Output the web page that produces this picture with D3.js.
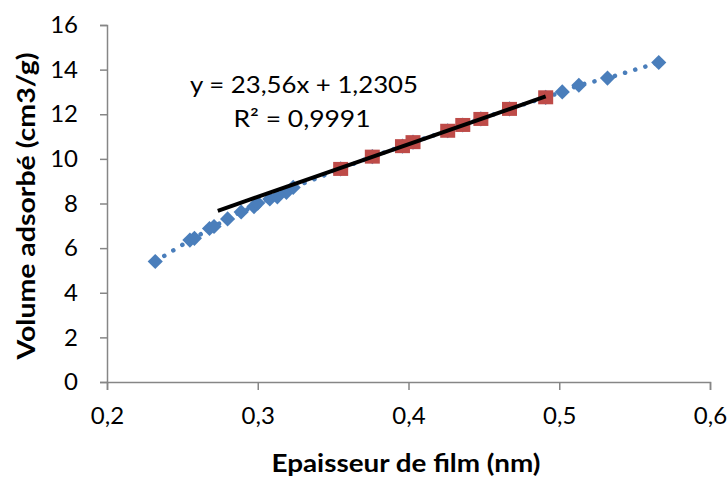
<!DOCTYPE html>
<html><head><meta charset="utf-8">
<script src="https://cdn.jsdelivr.net/npm/d3@7"></script>
<style>body{margin:0;background:#fff;overflow:hidden;} svg{display:block;} text{font-family:Lato,"Open Sans",sans-serif;}</style>
</head><body><svg id="c" width="728" height="477"></svg>
<script>
// Data
const blueX = [0.232,0.255,0.258,0.268,0.271,0.280,0.289,0.2975,0.300,0.308,0.313,0.319,0.3235,0.355,0.376,0.396,0.403,0.426,0.436,0.448,0.467,0.491,0.502,0.513,0.532,0.566];
const blueY = [5.40,6.36,6.44,6.88,6.97,7.31,7.62,7.86,8.02,8.20,8.30,8.50,8.72,9.55,10.10,10.57,10.75,11.26,11.52,11.79,12.24,12.76,13.00,13.30,13.62,14.32];
const redX = [0.355,0.376,0.396,0.403,0.426,0.436,0.448,0.467,0.491];
const redY = [9.55,10.10,10.57,10.75,11.26,11.52,11.79,12.24,12.76];
const trendSlope = 23.56, trendIntercept = 1.2305, trendStart = 0.2735, trendEnd = 0.491;
const xTicks = [0.2,0.3,0.4,0.5,0.6];
const yTicks = [0,2,4,6,8,10,12,14,16];
const eqLines = ["y = 23,56x + 1,2305","R² = 0,9991"];
const xTitle = "Epaisseur de film (nm)";
const yTitle = "Volume adsorbé (cm3/g)";

const svg = d3.select("#c");
const x = d3.scaleLinear().domain([0.2,0.6]).range([107,710]);
const y = d3.scaleLinear().domain([0,16]).range([382,25]);
const fmt = d => String(d).replace(".", ",");
const axisColor = "#868686";

const gx = svg.append("g").attr("transform","translate(0,382)")
  .call(d3.axisBottom(x).tickValues(xTicks).tickFormat(fmt).tickSize(8).tickPadding(17));
const gy = svg.append("g").attr("transform","translate(107,0)")
  .call(d3.axisLeft(y).tickValues(yTicks).tickFormat(fmt).tickSize(7).tickPadding(22));
[gx,gy].forEach(g=>{
  g.select(".domain").attr("stroke",axisColor).attr("stroke-width",1.5);
  g.selectAll(".tick line").attr("stroke",axisColor).attr("stroke-width",1.5);
  g.selectAll(".tick text").attr("fill","#000").style("font-size","24px").style("font-family","Lato, 'Open Sans', sans-serif");
});

// axis titles
svg.append("text").attr("x",406).attr("y",472).attr("text-anchor","middle")
  .attr("textLength",269).attr("lengthAdjust","spacingAndGlyphs")
  .style("font-size","24px").style("font-weight","bold").text(xTitle);
svg.append("text").attr("transform","translate(35,206) rotate(-90)").attr("text-anchor","middle")
  .attr("textLength",307).attr("lengthAdjust","spacingAndGlyphs")
  .style("font-size","24px").style("font-weight","bold").text(yTitle);

// blue series dotted line
const blue = blueX.map((d,i)=>[d,blueY[i]]);
svg.append("path").datum(blue)
  .attr("d", d3.line().x(d=>x(d[0])).y(d=>y(d[1])))
  .attr("fill","none").attr("stroke","#4A7EBB").attr("stroke-width",4.5)
  .attr("stroke-linecap","round").attr("stroke-dasharray","0.1 10.5");
// blue diamonds
const dsym = d3.symbol().type(d3.symbolSquare).size(115);
svg.append("g").selectAll("path").data(blue).join("path")
  .attr("d", dsym)
  .attr("transform", d=>`translate(${x(d[0])},${y(d[1])}) rotate(45)`)
  .attr("fill","#4A7EBB");

// red squares
const red = redX.map((d,i)=>[d,redY[i]]);
svg.append("g").selectAll("rect").data(red).join("rect")
  .attr("x", d=>x(d[0])-7.5).attr("y", d=>y(d[1])-7)
  .attr("width",15).attr("height",14)
  .attr("fill","#BE4B48");

// trendline
svg.append("line")
  .attr("x1", x(trendStart)).attr("y1", y(trendSlope*trendStart+trendIntercept))
  .attr("x2", x(trendEnd)).attr("y2", y(trendSlope*trendEnd+trendIntercept))
  .attr("stroke","#000").attr("stroke-width",4);

// equation
svg.append("text").attr("x",304).attr("y",93).attr("text-anchor","middle")
  .attr("textLength",228).attr("lengthAdjust","spacingAndGlyphs").style("font-size","24px").text(eqLines[0]);
svg.append("text").attr("x",302).attr("y",127).attr("text-anchor","middle")
  .attr("textLength",137).attr("lengthAdjust","spacingAndGlyphs").style("font-size","24px").text(eqLines[1]);
</script></body></html>
